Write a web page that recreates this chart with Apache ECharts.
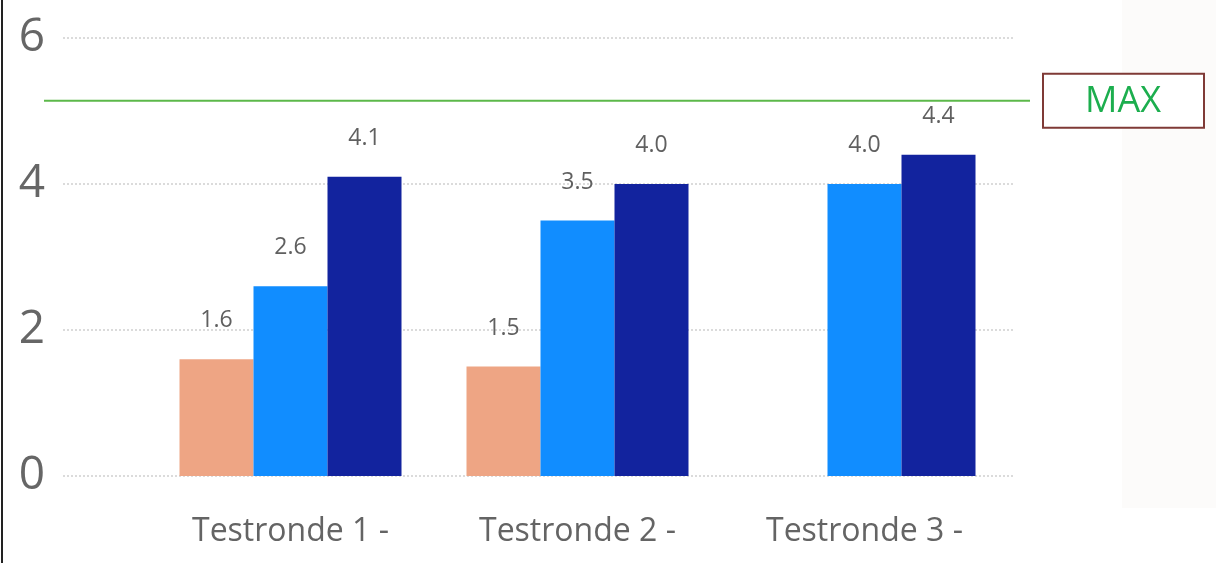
<!DOCTYPE html>
<html><head><meta charset="utf-8">
<script src="https://cdn.jsdelivr.net/npm/echarts@6/dist/echarts.min.js"></script>
<style>html,body{margin:0;padding:0;background:#fff}#c{width:1216px;height:563px}</style>
</head><body><div id="c"></div>
<script>
const categories = ['Testronde 1 -', 'Testronde 2 -', 'Testronde 3 -'];
const seriesA = [1.6, 1.5, null];
const seriesB = [2.6, 3.5, 4.0];
const seriesC = [4.1, 4.0, 4.4];
const yTicks = [0, 2, 4, 6];
const maxValue = 5.14;
const maxLabel = 'MAX';

const chart = echarts.init(document.getElementById('c'));
const font = '"Open Sans", "Noto Sans", sans-serif';
const lbl = {show: true, position: 'top', distance: 27, color: '#606060', fontSize: 23, fontFamily: font, formatter: p => p.value.toFixed(1)};
function bar(name, data, color) {
  return {name, type: 'bar', xAxisIndex: 1, yAxisIndex: 1, data, barWidth: 74, barGap: '0%',
    itemStyle: {color}, label: lbl, emphasis: {disabled: true}};
}
chart.setOption({
  animation: false,
  grid: [
    {left: 63, right: 203, top: 38, bottom: 87},
    {left: 147, right: 208, top: 38, bottom: 87}
  ],
  xAxis: [
    {type: 'value', gridIndex: 0, show: false, min: 0, max: 1},
    {type: 'category', gridIndex: 1, data: categories, axisLine: {show: false}, axisTick: {show: false},
      axisLabel: {color: '#646464', fontSize: 32, fontFamily: font, margin: 40}}
  ],
  yAxis: [
    {type: 'value', gridIndex: 0, min: yTicks[0], max: yTicks[yTicks.length - 1], interval: 2,
      axisLine: {show: false}, axisTick: {show: false},
      axisLabel: {color: '#666', fontSize: 46, fontFamily: font, margin: 18},
      splitLine: {lineStyle: {type: [2, 2], color: '#cfcfcf', width: 1.5}}},
    {type: 'value', gridIndex: 1, min: yTicks[0], max: yTicks[yTicks.length - 1], interval: 2, show: false, splitLine: {show: false}}
  ],
  series: [
    bar('A', seriesA, '#EEA584'),
    bar('B', seriesB, '#118DFF'),
    bar('C', seriesC, '#12239E')
  ]
});
const yMax = chart.convertToPixel({yAxisIndex: 0}, maxValue);
chart.setOption({
  graphic: [
    {type: 'rect', shape: {x: 1122, y: 0, width: 94, height: 508}, style: {fill: '#fcfbfa'}, z: -10, silent: true},
    {type: 'line', shape: {x1: 2, y1: 0, x2: 2, y2: 563}, style: {stroke: '#222', lineWidth: 2}},
    {type: 'line', shape: {x1: 44, y1: yMax, x2: 1030, y2: yMax}, style: {stroke: '#5cb84a', lineWidth: 2}, z: 10},
    {type: 'rect', shape: {x: 1043, y: yMax - 27, width: 161, height: 54}, style: {fill: '#fff', stroke: '#7f3a36', lineWidth: 2}, z: 10},
    {type: 'text', x: 1123, y: yMax + 1, style: {text: maxLabel, fill: '#1cae4e', fontSize: 36, fontFamily: font, align: 'center', verticalAlign: 'middle'}, z: 11}
  ]
});
</script></body></html>
